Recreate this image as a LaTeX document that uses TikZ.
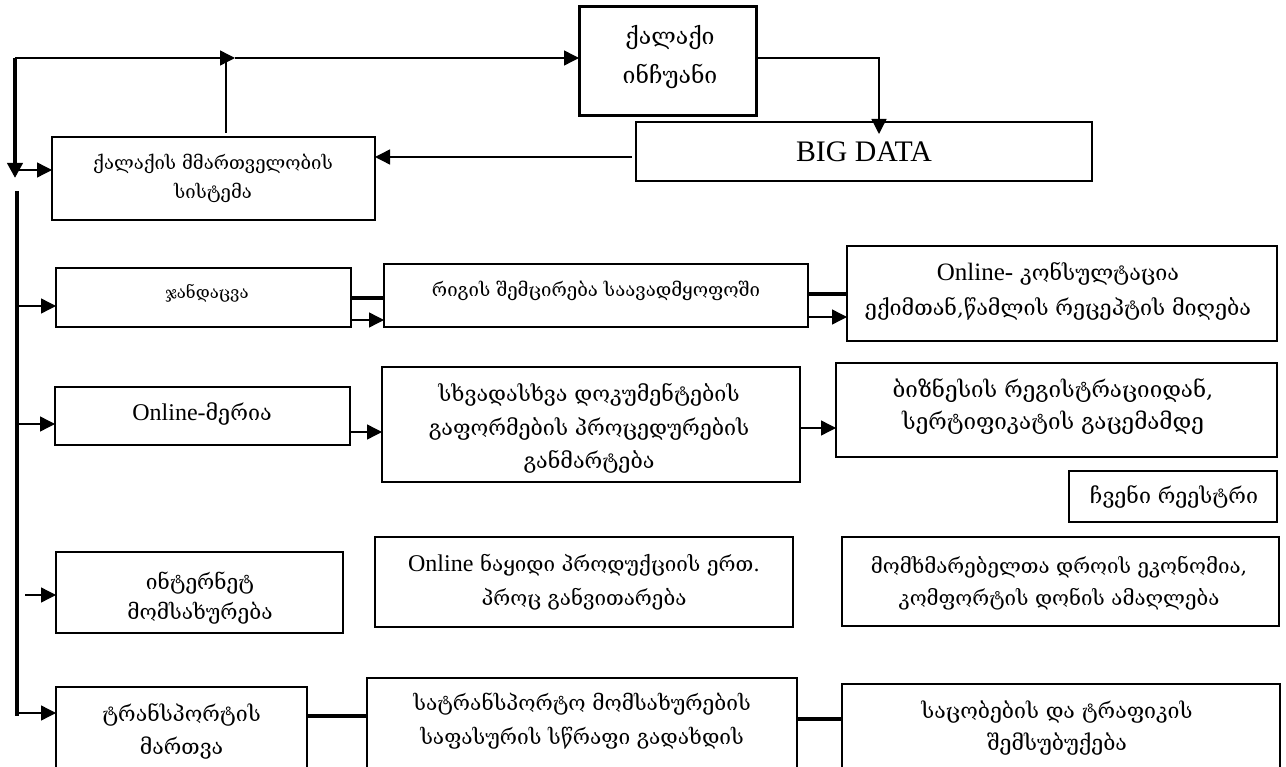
\documentclass[tikz,border=0pt]{standalone}
\usepackage{fontspec}
\setmainfont{DejaVu Serif}
\newfontfamily\lat{Liberation Serif}
\usetikzlibrary{arrows.meta}
\newcommand\boxnode[6]{\node[box,#6,minimum width={#4-#2},minimum height={#5-#3}] (#1) at (#2,#3) {};}
\begin{document}
\begin{tikzpicture}[x=1pt,y=-1pt,
  box/.style={draw,line width=1.3pt,inner sep=0pt,outer sep=0pt,anchor=north west},
  heavybox/.style={line width=3pt},
  gt/.style={inner sep=0pt,align=center,font=\fontsize{21.5}{33}\selectfont},
  conn/.style={line width=1.4pt},
  arr/.style={line width=1.4pt,-{Triangle[length=15pt,width=15pt]}},
  heavy/.style={line width=4pt},
  heavyarr/.style={line width=4pt,-{Triangle[length=15pt,width=15pt]}}]
\useasboundingbox (0,0) rectangle (1286,767);
\clip (0,0) rectangle (1286,767);
% boxes
\boxnode{city}{579}{7}{756}{116}{heavybox}
\boxnode{mgmt}{52}{137}{375}{220}{}
\boxnode{big}{636}{122}{1092}{181}{}
\boxnode{health}{56}{268}{351}{327}{}
\boxnode{queue}{384}{264}{808}{327}{}
\boxnode{consult}{847}{246}{1277}{341}{}
\boxnode{meria}{55}{387}{350}{445}{}
\boxnode{docs}{382}{367}{800}{482}{}
\boxnode{biz}{836}{363}{1277}{457}{}
\boxnode{reg}{1069}{471}{1277}{522}{}
\boxnode{inet}{56}{552}{343}{633}{}
\boxnode{shop}{375}{537}{793}{627}{}
\boxnode{econ}{842}{537}{1279}{626}{}
\boxnode{trans}{56}{687}{307}{800}{}
\boxnode{fast}{367}{678}{797}{800}{}
\boxnode{jam}{842}{684}{1280}{800}{}
% texts
\node[gt,font=\fontsize{23}{39}\selectfont] (cityT) at (670,57.5) {ქალაქი\\ინჩუანი};
\node[gt,font=\fontsize{18.5}{29}\selectfont] (mgmtT) at (213,178.5) {ქალაქის მმართველობის\\სისტემა};
\node[gt,font=\fontsize{29.8}{30}\lat] (bigT) at (864,152) {BIG DATA};
\node[gt,font=\fontsize{16.8}{20}\selectfont] (healthT) at (207,293) {ჯანდაცვა};
\node[gt,font=\fontsize{18.6}{20}\selectfont] (queueT) at (596,291) {რიგის შემცირება საავადმყოფოში};
\node[gt,font=\fontsize{21.5}{35}\selectfont] (consultT) at (1058,291.5) {{\lat\fontsize{25}{35}\selectfont Online-} კონსულტაცია\\ექიმთან,წამლის რეცეპტის მიღება};
\node[gt] (meriaT) at (202,414) {{\lat\fontsize{24}{33}\selectfont Online-}მერია};
\node[gt,font=\fontsize{21.5}{33.5}\selectfont] (docsT) at (589,428.5) {სხვადასხვა დოკუმენტების\\გაფორმების პროცედურების\\განმარტება};
\node[gt,font=\fontsize{22.4}{32}\selectfont] (bizT) at (1053,407) {ბიზნესის რეგისტრაციიდან,\\სერტიფიკატის გაცემამდე};
\node[gt,font=\fontsize{21.4}{30}\selectfont] (regT) at (1174,497) {ჩვენი რეესტრი};
\node[gt,font=\fontsize{20.9}{30}\selectfont] (inetT) at (200,598) {ინტერნეტ\\მომსახურება};
\node[gt,font=\fontsize{20.6}{34}\selectfont] (shopT) at (584,582) {{\lat\fontsize{24}{34}\selectfont Online} ნაყიდი პროდუქციის ერთ.\\პროც განვითარება};
\node[gt,font=\fontsize{20.5}{32}\selectfont] (econT) at (1059,583) {მომხმარებელთა დროის ეკონომია,\\კომფორტის დონის ამაღლება};
\node[gt,font=\fontsize{21.3}{33}\selectfont] (transT) at (181.5,731.5) {ტრანსპორტის\\მართვა};
\node[gt,font=\fontsize{20.9}{34}\selectfont] (fastT) at (582,721) {სატრანსპორტო მომსახურების\\საფასურის სწრაფი გადახდის};
\node[gt,font=\fontsize{21.3}{32}\selectfont] (jamT) at (1057,728) {საცობების და ტრაფიკის\\შემსუბუქება};
% connector points
\coordinate (tl) at (15,58);
\coordinate (tlTip) at (15,178);
\coordinate (midA) at (235,58);
\coordinate (vUp) at (226,58);
\coordinate (mgUp) at (226,133);
\coordinate (inA) at (17,170);
\coordinate (cityCorner) at (879,58);
\coordinate (bigTip) at (879,134);
\coordinate (bigOut) at (632,157);
\coordinate (spTop) at (17,191);
\coordinate (spBot) at (17,716);
\coordinate (r1) at (17,306);
\coordinate (r2) at (17,424);
\coordinate (r3) at (25,595);
\coordinate (r4) at (17,713);
\coordinate (t1) at (351,298);
\coordinate (a1) at (351,320);
\coordinate (t2) at (808,294);
\coordinate (a2) at (808,317);
\coordinate (a3) at (350,432);
\coordinate (a4) at (800,428);
\coordinate (t3) at (307,716);
\coordinate (t4) at (797,719);
% connectors
\draw[heavyarr] (tl) -- (tlTip);
\draw[arr] (tl) -- (midA);
\draw[arr] (midA) -- (midA -| city.west);
\draw[conn] (mgUp) -- (vUp);
\draw[arr] (inA) -- (inA -| mgmt.west);
\draw[arr] (cityCorner -| city.east) -- (cityCorner) -- (bigTip);
\draw[arr] (bigOut) -- (bigOut -| mgmt.east);
\draw[heavy] (spTop) -- (spBot);
\draw[arr] (r1) -- (r1 -| health.west);
\draw[arr] (r2) -- (r2 -| meria.west);
\draw[arr] (r3) -- (r3 -| inet.west);
\draw[arr] (r4) -- (r4 -| trans.west);
\draw[heavy] (t1) -- (t1 -| queue.west);
\draw[arr] (a1) -- (a1 -| queue.west);
\draw[heavy] (t2) -- (t2 -| consult.west);
\draw[arr] (a2) -- (a2 -| consult.west);
\draw[arr] (a3) -- (a3 -| docs.west);
\draw[arr] (a4) -- (a4 -| biz.west);
\draw[heavy] (t3) -- (t3 -| fast.west);
\draw[heavy] (t4) -- (t4 -| jam.west);
\end{tikzpicture}
\end{document}
